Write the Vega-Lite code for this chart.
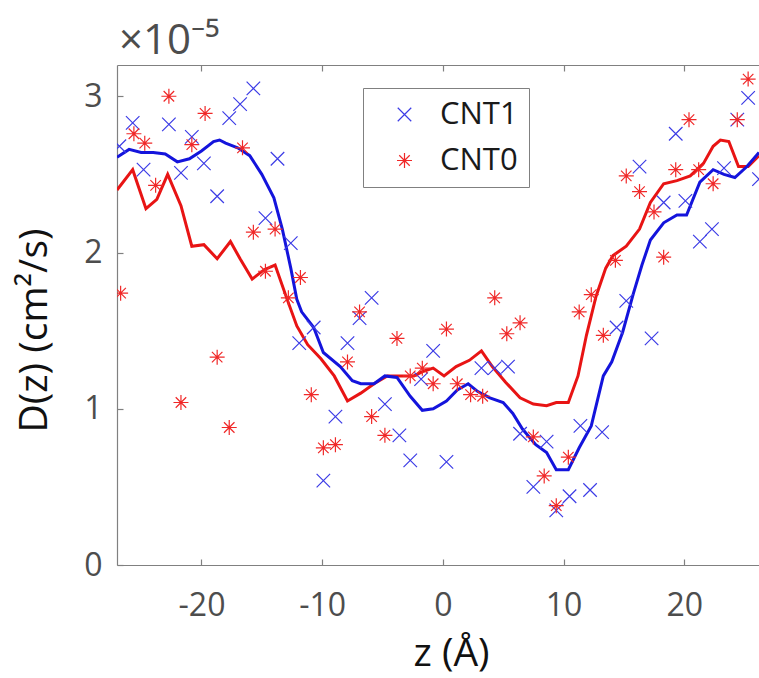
{
  "$schema": "https://vega.github.io/schema/vega-lite/v6.json",
  "width": 642,
  "height": 500,
  "autosize": {"type": "none"},
  "padding": {"left": 117, "top": 65, "right": 0, "bottom": 113},
  "background": "white",
  "title": {"text": "×10⁻⁵", "anchor": "start", "frame": "group", "fontSize": 42, "font": "Open Sans", "fontWeight": "normal", "color": "#4d4d4d", "offset": 1, "dx": 2},
  "config": {
    "view": {"stroke": null},
    "axis": {
      "grid": false,
      "domainColor": "#808080",
      "tickColor": "#808080",
      "domainWidth": 1.2,
      "tickWidth": 1.2,
      "tickSize": -6,
      "labelColor": "#4d4d4d",
      "labelFont": "Open Sans",
      "labelFontSize": 32,
      "titleFont": "Open Sans",
      "titleFontSize": 39,
      "titleFontWeight": "normal",
      "titleColor": "#111111"
    }
  },
  "datasets": {
    "lines": [
      {"series": "CNT1", "z": -27, "D": 2.61}, {"series": "CNT1", "z": -26, "D": 2.66}, {"series": "CNT1", "z": -25, "D": 2.64},
      {"series": "CNT1", "z": -24, "D": 2.64}, {"series": "CNT1", "z": -23, "D": 2.63}, {"series": "CNT1", "z": -22, "D": 2.58},
      {"series": "CNT1", "z": -21, "D": 2.60}, {"series": "CNT1", "z": -20, "D": 2.65}, {"series": "CNT1", "z": -19, "D": 2.71},
      {"series": "CNT1", "z": -18.5, "D": 2.72}, {"series": "CNT1", "z": -18, "D": 2.70}, {"series": "CNT1", "z": -17, "D": 2.67},
      {"series": "CNT1", "z": -16, "D": 2.62}, {"series": "CNT1", "z": -15, "D": 2.50}, {"series": "CNT1", "z": -14, "D": 2.35},
      {"series": "CNT1", "z": -13.3, "D": 2.15}, {"series": "CNT1", "z": -12.6, "D": 1.90}, {"series": "CNT1", "z": -12.1, "D": 1.70},
      {"series": "CNT1", "z": -11.7, "D": 1.62}, {"series": "CNT1", "z": -10.7, "D": 1.52}, {"series": "CNT1", "z": -9.9, "D": 1.36},
      {"series": "CNT1", "z": -8.5, "D": 1.27}, {"series": "CNT1", "z": -7.5, "D": 1.18}, {"series": "CNT1", "z": -6.8, "D": 1.16},
      {"series": "CNT1", "z": -5.7, "D": 1.16}, {"series": "CNT1", "z": -4.8, "D": 1.21}, {"series": "CNT1", "z": -3.8, "D": 1.20},
      {"series": "CNT1", "z": -2.7, "D": 1.08}, {"series": "CNT1", "z": -1.7, "D": 0.99}, {"series": "CNT1", "z": -0.8, "D": 1.00},
      {"series": "CNT1", "z": 0.3, "D": 1.05}, {"series": "CNT1", "z": 1.2, "D": 1.12}, {"series": "CNT1", "z": 2.1, "D": 1.16},
      {"series": "CNT1", "z": 2.9, "D": 1.11}, {"series": "CNT1", "z": 3.9, "D": 1.07}, {"series": "CNT1", "z": 5.0, "D": 1.04},
      {"series": "CNT1", "z": 5.8, "D": 0.97}, {"series": "CNT1", "z": 6.6, "D": 0.87}, {"series": "CNT1", "z": 7.7, "D": 0.77},
      {"series": "CNT1", "z": 8.6, "D": 0.72}, {"series": "CNT1", "z": 9.4, "D": 0.61}, {"series": "CNT1", "z": 10.4, "D": 0.61},
      {"series": "CNT1", "z": 11.3, "D": 0.75}, {"series": "CNT1", "z": 12.3, "D": 0.89}, {"series": "CNT1", "z": 13.3, "D": 1.21},
      {"series": "CNT1", "z": 14.0, "D": 1.30}, {"series": "CNT1", "z": 14.9, "D": 1.49}, {"series": "CNT1", "z": 15.8, "D": 1.74},
      {"series": "CNT1", "z": 16.5, "D": 1.92}, {"series": "CNT1", "z": 17.2, "D": 2.08}, {"series": "CNT1", "z": 18.3, "D": 2.19},
      {"series": "CNT1", "z": 19.4, "D": 2.24}, {"series": "CNT1", "z": 20.2, "D": 2.24}, {"series": "CNT1", "z": 21.3, "D": 2.45},
      {"series": "CNT1", "z": 22.4, "D": 2.53}, {"series": "CNT1", "z": 23.3, "D": 2.50}, {"series": "CNT1", "z": 24.2, "D": 2.48},
      {"series": "CNT1", "z": 25.2, "D": 2.55}, {"series": "CNT1", "z": 26.2, "D": 2.64},
      {"series": "CNT0", "z": -27, "D": 2.40}, {"series": "CNT0", "z": -25.7, "D": 2.53}, {"series": "CNT0", "z": -24.6, "D": 2.28},
      {"series": "CNT0", "z": -23.7, "D": 2.34}, {"series": "CNT0", "z": -22.8, "D": 2.50}, {"series": "CNT0", "z": -21.7, "D": 2.30},
      {"series": "CNT0", "z": -20.8, "D": 2.04}, {"series": "CNT0", "z": -19.8, "D": 2.05}, {"series": "CNT0", "z": -18.7, "D": 1.96},
      {"series": "CNT0", "z": -17.6, "D": 2.07}, {"series": "CNT0", "z": -16.8, "D": 1.96}, {"series": "CNT0", "z": -15.8, "D": 1.83},
      {"series": "CNT0", "z": -14.8, "D": 1.89}, {"series": "CNT0", "z": -13.9, "D": 1.92}, {"series": "CNT0", "z": -12.9, "D": 1.70},
      {"series": "CNT0", "z": -12.1, "D": 1.53}, {"series": "CNT0", "z": -11.2, "D": 1.41}, {"series": "CNT0", "z": -10.1, "D": 1.32},
      {"series": "CNT0", "z": -9.0, "D": 1.21}, {"series": "CNT0", "z": -7.9, "D": 1.05}, {"series": "CNT0", "z": -6.8, "D": 1.10},
      {"series": "CNT0", "z": -5.7, "D": 1.16}, {"series": "CNT0", "z": -4.6, "D": 1.21}, {"series": "CNT0", "z": -3.5, "D": 1.21},
      {"series": "CNT0", "z": -2.4, "D": 1.21}, {"series": "CNT0", "z": -1.6, "D": 1.24}, {"series": "CNT0", "z": -0.8, "D": 1.26},
      {"series": "CNT0", "z": 0.1, "D": 1.21}, {"series": "CNT0", "z": 1.1, "D": 1.27}, {"series": "CNT0", "z": 2.2, "D": 1.31},
      {"series": "CNT0", "z": 3.2, "D": 1.37}, {"series": "CNT0", "z": 4.1, "D": 1.27}, {"series": "CNT0", "z": 5.2, "D": 1.17},
      {"series": "CNT0", "z": 6.4, "D": 1.07}, {"series": "CNT0", "z": 7.5, "D": 1.03}, {"series": "CNT0", "z": 8.6, "D": 1.02},
      {"series": "CNT0", "z": 9.4, "D": 1.04}, {"series": "CNT0", "z": 10.4, "D": 1.04}, {"series": "CNT0", "z": 11.2, "D": 1.21},
      {"series": "CNT0", "z": 11.9, "D": 1.47}, {"series": "CNT0", "z": 12.7, "D": 1.72}, {"series": "CNT0", "z": 13.5, "D": 1.90},
      {"series": "CNT0", "z": 14.1, "D": 1.98}, {"series": "CNT0", "z": 15.2, "D": 2.04}, {"series": "CNT0", "z": 16.3, "D": 2.15},
      {"series": "CNT0", "z": 17.2, "D": 2.32}, {"series": "CNT0", "z": 18.3, "D": 2.44}, {"series": "CNT0", "z": 19.4, "D": 2.46},
      {"series": "CNT0", "z": 20.5, "D": 2.49}, {"series": "CNT0", "z": 21.6, "D": 2.57}, {"series": "CNT0", "z": 22.4, "D": 2.68},
      {"series": "CNT0", "z": 23.0, "D": 2.72}, {"series": "CNT0", "z": 23.7, "D": 2.71}, {"series": "CNT0", "z": 24.5, "D": 2.55},
      {"series": "CNT0", "z": 25.3, "D": 2.55}, {"series": "CNT0", "z": 26.2, "D": 2.62}
    ],
    "points": [
      {"series": "CNT1", "z": -26.8, "D": 2.68}, {"series": "CNT1", "z": -25.7, "D": 2.83}, {"series": "CNT1", "z": -24.8, "D": 2.53},
      {"series": "CNT1", "z": -22.7, "D": 2.82}, {"series": "CNT1", "z": -21.7, "D": 2.51}, {"series": "CNT1", "z": -20.8, "D": 2.74},
      {"series": "CNT1", "z": -19.8, "D": 2.57}, {"series": "CNT1", "z": -18.7, "D": 2.36}, {"series": "CNT1", "z": -17.7, "D": 2.86},
      {"series": "CNT1", "z": -16.8, "D": 2.95}, {"series": "CNT1", "z": -15.7, "D": 3.05}, {"series": "CNT1", "z": -14.7, "D": 2.22},
      {"series": "CNT1", "z": -13.7, "D": 2.60}, {"series": "CNT1", "z": -12.6, "D": 2.06}, {"series": "CNT1", "z": -11.9, "D": 1.42},
      {"series": "CNT1", "z": -10.7, "D": 1.52}, {"series": "CNT1", "z": -9.9, "D": 0.54}, {"series": "CNT1", "z": -8.9, "D": 0.95},
      {"series": "CNT1", "z": -7.9, "D": 1.42}, {"series": "CNT1", "z": -6.9, "D": 1.58}, {"series": "CNT1", "z": -5.9, "D": 1.71},
      {"series": "CNT1", "z": -4.8, "D": 1.03}, {"series": "CNT1", "z": -3.6, "D": 0.83}, {"series": "CNT1", "z": -2.7, "D": 0.67},
      {"series": "CNT1", "z": -1.8, "D": 1.19}, {"series": "CNT1", "z": -0.8, "D": 1.37}, {"series": "CNT1", "z": 0.3, "D": 0.66},
      {"series": "CNT1", "z": 3.2, "D": 1.26}, {"series": "CNT1", "z": 4.3, "D": 1.26}, {"series": "CNT1", "z": 5.4, "D": 1.27},
      {"series": "CNT1", "z": 6.4, "D": 0.84}, {"series": "CNT1", "z": 7.5, "D": 0.50}, {"series": "CNT1", "z": 8.6, "D": 0.79},
      {"series": "CNT1", "z": 9.4, "D": 0.35}, {"series": "CNT1", "z": 10.5, "D": 0.44}, {"series": "CNT1", "z": 11.4, "D": 0.89},
      {"series": "CNT1", "z": 12.2, "D": 0.48}, {"series": "CNT1", "z": 13.2, "D": 0.85}, {"series": "CNT1", "z": 14.4, "D": 1.52},
      {"series": "CNT1", "z": 15.2, "D": 1.69}, {"series": "CNT1", "z": 16.3, "D": 2.55}, {"series": "CNT1", "z": 17.3, "D": 1.45},
      {"series": "CNT1", "z": 18.3, "D": 2.32}, {"series": "CNT1", "z": 19.3, "D": 2.76}, {"series": "CNT1", "z": 20.1, "D": 2.33},
      {"series": "CNT1", "z": 21.3, "D": 2.07}, {"series": "CNT1", "z": 22.3, "D": 2.15}, {"series": "CNT1", "z": 23.3, "D": 2.54},
      {"series": "CNT1", "z": 24.4, "D": 2.85}, {"series": "CNT1", "z": 25.3, "D": 2.99}, {"series": "CNT1", "z": 26.2, "D": 2.47},
      {"series": "CNT0", "z": -26.7, "D": 1.74}, {"series": "CNT0", "z": -25.6, "D": 2.76}, {"series": "CNT0", "z": -24.7, "D": 2.70},
      {"series": "CNT0", "z": -23.8, "D": 2.43}, {"series": "CNT0", "z": -22.7, "D": 3.00}, {"series": "CNT0", "z": -21.7, "D": 1.04},
      {"series": "CNT0", "z": -20.8, "D": 2.69}, {"series": "CNT0", "z": -19.7, "D": 2.89}, {"series": "CNT0", "z": -18.7, "D": 1.33},
      {"series": "CNT0", "z": -17.7, "D": 0.88}, {"series": "CNT0", "z": -16.6, "D": 2.67}, {"series": "CNT0", "z": -15.7, "D": 2.13},
      {"series": "CNT0", "z": -14.7, "D": 1.88}, {"series": "CNT0", "z": -13.9, "D": 2.15}, {"series": "CNT0", "z": -12.8, "D": 1.71},
      {"series": "CNT0", "z": -11.8, "D": 1.84}, {"series": "CNT0", "z": -10.9, "D": 1.09}, {"series": "CNT0", "z": -9.9, "D": 0.75},
      {"series": "CNT0", "z": -8.9, "D": 0.77}, {"series": "CNT0", "z": -7.9, "D": 1.30}, {"series": "CNT0", "z": -6.9, "D": 1.62},
      {"series": "CNT0", "z": -5.9, "D": 0.95}, {"series": "CNT0", "z": -4.8, "D": 0.83}, {"series": "CNT0", "z": -3.8, "D": 1.45},
      {"series": "CNT0", "z": -2.7, "D": 1.21}, {"series": "CNT0", "z": -1.7, "D": 1.26}, {"series": "CNT0", "z": -0.8, "D": 1.16},
      {"series": "CNT0", "z": 0.3, "D": 1.51}, {"series": "CNT0", "z": 1.2, "D": 1.16}, {"series": "CNT0", "z": 2.3, "D": 1.09},
      {"series": "CNT0", "z": 3.3, "D": 1.08}, {"series": "CNT0", "z": 4.3, "D": 1.71}, {"series": "CNT0", "z": 5.3, "D": 1.48},
      {"series": "CNT0", "z": 6.4, "D": 1.55}, {"series": "CNT0", "z": 7.5, "D": 0.82}, {"series": "CNT0", "z": 8.4, "D": 0.57},
      {"series": "CNT0", "z": 9.4, "D": 0.38}, {"series": "CNT0", "z": 10.4, "D": 0.69}, {"series": "CNT0", "z": 11.3, "D": 1.62},
      {"series": "CNT0", "z": 12.3, "D": 1.73}, {"series": "CNT0", "z": 13.3, "D": 1.47}, {"series": "CNT0", "z": 14.3, "D": 1.95},
      {"series": "CNT0", "z": 15.2, "D": 2.49}, {"series": "CNT0", "z": 16.3, "D": 2.39}, {"series": "CNT0", "z": 17.5, "D": 2.26},
      {"series": "CNT0", "z": 18.3, "D": 1.97}, {"series": "CNT0", "z": 19.3, "D": 2.53}, {"series": "CNT0", "z": 20.4, "D": 2.85},
      {"series": "CNT0", "z": 21.2, "D": 2.53}, {"series": "CNT0", "z": 22.4, "D": 2.44}, {"series": "CNT0", "z": 24.4, "D": 2.85},
      {"series": "CNT0", "z": 25.3, "D": 3.11}
    ]
  },
  "layer": [
    {
      "data": {"name": "lines"},
      "transform": [{"filter": "datum.series === 'CNT0'"}],
      "mark": {"type": "line", "color": "#e81414", "strokeWidth": 3, "clip": true},
      "encoding": {
        "x": {"field": "z", "type": "quantitative", "scale": {"domain": [-27, 26.2], "nice": false, "zero": false},
              "axis": {"orient": "bottom", "values": [-20, -10, 0, 10, 20], "labelExpr": "datum.value + ''", "labelPadding": 31, "title": "z (Å)", "titlePadding": 13, "titleX": 334}},
        "y": {"field": "D", "type": "quantitative", "scale": {"domain": [0, 3.2], "nice": false, "zero": true},
              "axis": {"values": [0, 1, 2, 3], "labelExpr": "datum.value + ''", "labelPadding": 21, "title": "D(z) (cm²/s)", "titlePadding": 29, "titleY": 265}}
      }
    },
    {
      "data": {"name": "lines"},
      "transform": [{"filter": "datum.series === 'CNT1'"}],
      "mark": {"type": "line", "color": "#1414dc", "strokeWidth": 3, "clip": true},
      "encoding": {
        "x": {"field": "z", "type": "quantitative", "scale": {"domain": [-27, 26.2], "nice": false, "zero": false},
              "axis": {"orient": "top", "values": [-20, -10, 0, 10, 20], "labels": false, "title": null}},
        "y": {"field": "D", "type": "quantitative"}
      }
    },
    {
      "data": {"name": "points"},
      "mark": {"type": "point", "filled": false, "strokeWidth": 1.2, "size": 225, "clip": true, "opacity": 1},
      "encoding": {
        "x": {"field": "z", "type": "quantitative", "axis": null},
        "y": {"field": "D", "type": "quantitative"},
        "color": {"field": "series", "type": "nominal",
                  "scale": {"domain": ["CNT1", "CNT0"], "range": ["#3c3ce6", "#f02828"]},
                  "legend": {"orient": "none", "legendX": 246, "legendY": 23, "title": null,
                             "strokeColor": "#808080", "fillColor": "white", "padding": 11,
                             "labelFont": "Open Sans", "labelFontSize": 31, "labelColor": "#1a1a1a",
                             "labelExpr": "datum.label + '\u00a0\u00a0'",
                             "symbolSize": 225, "symbolStrokeWidth": 1.2, "symbolOffset": 15, "labelOffset": 20, "rowPadding": 14}},
        "shape": {"field": "series", "type": "nominal",
                  "scale": {"domain": ["CNT1", "CNT0"], "range": ["M-0.9,-0.9L0.9,0.9M-0.9,0.9L0.9,-0.9", "M-1,0L1,0M0,-1L0,1M-0.7,-0.7L0.7,0.7M-0.7,0.7L0.7,-0.7"]},
                  "legend": {"orient": "none", "legendX": 246, "legendY": 23, "title": null,
                             "strokeColor": "#808080", "fillColor": "white", "padding": 11,
                             "labelFont": "Open Sans", "labelFontSize": 31, "labelColor": "#1a1a1a",
                             "labelExpr": "datum.label + '\u00a0\u00a0'",
                             "symbolSize": 225, "symbolStrokeWidth": 1.2, "symbolOffset": 15, "labelOffset": 20, "rowPadding": 14}}
      }
    }
  ],
  "resolve": {"axis": {"x": "independent"}}
}
